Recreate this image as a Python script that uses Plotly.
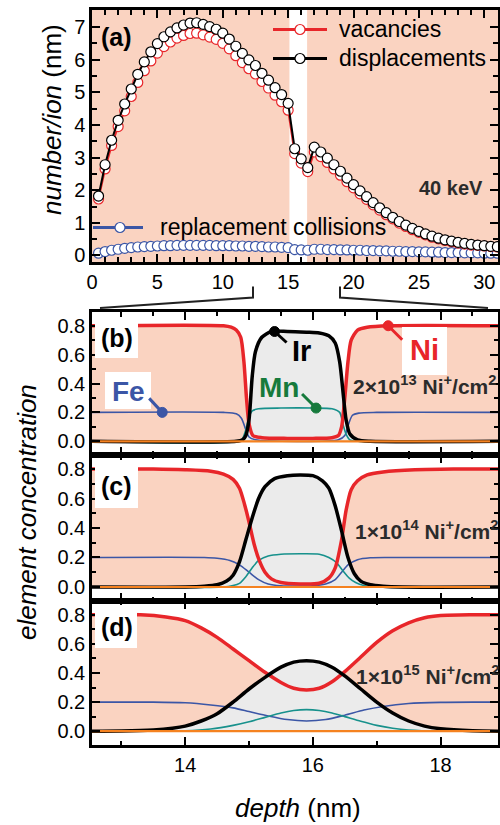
import plotly.graph_objects as go

W, H = 500, 825
FONT = "Liberation Sans, Arial, sans-serif"


def px(x):
    return x / W


def py(y):
    return 1 - y / H


# ---------------- panel (a): SRIM profiles ----------------
depth_a = [0.5, 1.0, 1.5, 2.0, 2.5, 3.0, 3.5, 4.0, 4.5, 5.0, 5.5, 6.0, 6.5, 7.0, 7.5, 8.0,
           8.5, 9.0, 9.5, 10.0, 10.5, 11.0, 11.5, 12.0, 12.5, 13.0, 13.5, 14.0, 14.5, 15.0,
           15.5, 16.0, 16.5, 17.0, 17.5, 18.0, 18.5, 19.0, 19.5, 20.0, 20.5, 21.0, 21.5, 22.0,
           22.5, 23.0, 23.5, 24.0, 24.5, 25.0, 25.5, 26.0, 26.5, 27.0, 27.5, 28.0, 28.5, 29.0,
           29.5, 30.0, 30.5, 31.0]
displacements = [1.82, 2.78, 3.53, 4.14, 4.64, 5.10, 5.55, 5.93, 6.24, 6.49, 6.70, 6.85, 6.97,
                 7.06, 7.12, 7.13, 7.08, 7.01, 6.93, 6.81, 6.63, 6.41, 6.19, 5.99, 5.82, 5.58,
                 5.37, 5.14, 4.93, 4.66, 3.27, 2.96, 2.69, 3.32, 3.17, 2.98, 2.78, 2.58, 2.37,
                 2.17, 1.98, 1.80, 1.62, 1.46, 1.31, 1.17, 1.04, 0.93, 0.83, 0.74, 0.66, 0.59,
                 0.53, 0.48, 0.44, 0.40, 0.37, 0.34, 0.32, 0.30, 0.28, 0.27]
vacancies = [1.73, 2.65, 3.37, 3.95, 4.43, 4.87, 5.30, 5.66, 5.96, 6.20, 6.40, 6.54, 6.66,
             6.74, 6.80, 6.81, 6.76, 6.69, 6.62, 6.50, 6.33, 6.12, 5.91, 5.72, 5.56, 5.33,
             5.13, 4.91, 4.71, 4.45, 3.12, 2.83, 2.57, 3.17, 3.03, 2.85, 2.65, 2.46, 2.26,
             2.07, 1.89, 1.72, 1.55, 1.39, 1.25, 1.12, 0.99, 0.89, 0.79, 0.71, 0.63, 0.56,
             0.51, 0.46, 0.42, 0.38, 0.35, 0.32, 0.31, 0.29, 0.27, 0.26]
replacements = [0.07, 0.12, 0.16, 0.19, 0.22, 0.24, 0.26, 0.27, 0.28, 0.29, 0.30, 0.30, 0.31,
                0.31, 0.31, 0.31, 0.31, 0.31, 0.30, 0.30, 0.30, 0.29, 0.29, 0.28, 0.28, 0.27,
                0.26, 0.26, 0.25, 0.24, 0.18, 0.17, 0.16, 0.19, 0.19, 0.18, 0.18, 0.17, 0.17,
                0.16, 0.16, 0.15, 0.15, 0.14, 0.14, 0.13, 0.13, 0.12, 0.12, 0.11, 0.11, 0.10,
                0.10, 0.09, 0.09, 0.09, 0.08, 0.08, 0.08, 0.07, 0.07, 0.07]
ir_layer_a = [15.1, 16.45]   # unshaded Ir layer in (a)

# ---------------- panel (b): 2e13 ----------------
ni_b_x = [12.5, 14.6, 14.72, 14.8, 14.87, 14.92, 14.96, 15.0, 15.06, 15.2, 15.6, 16.0, 16.3,
          16.4, 16.45, 16.5, 16.55, 16.6, 16.7, 16.85, 17.2, 19.0]
ni_b_y = [0.80, 0.80, 0.79, 0.77, 0.72, 0.55, 0.30, 0.12, 0.04, 0.025, 0.02, 0.02, 0.025,
          0.04, 0.10, 0.30, 0.55, 0.70, 0.77, 0.79, 0.80, 0.80]
ir_b_x = [12.5, 14.8, 14.9, 14.95, 15.0, 15.05, 15.1, 15.2, 15.35, 15.6, 15.9, 16.1, 16.25,
          16.35, 16.42, 16.47, 16.52, 16.58, 16.7, 16.9, 19.0]
ir_b_y = [0.0, 0.0, 0.01, 0.04, 0.15, 0.45, 0.62, 0.72, 0.76, 0.76, 0.755, 0.75, 0.73,
          0.68, 0.55, 0.35, 0.15, 0.05, 0.01, 0.0, 0.0]
fe_b_x = [12.5, 14.6, 14.8, 14.88, 14.95, 15.0, 15.1, 16.4, 16.5, 16.56, 16.62, 16.72, 17.0, 19.0]
fe_b_y = [0.20, 0.20, 0.19, 0.16, 0.08, 0.03, 0.01, 0.01, 0.04, 0.12, 0.18, 0.195, 0.20, 0.20]
mn_b_x = [12.5, 14.85, 14.9, 14.95, 15.0, 15.05, 15.15, 15.5, 16.0, 16.3, 16.42, 16.47, 16.52,
          16.58, 16.7, 19.0]
mn_b_y = [0.0, 0.0, 0.02, 0.08, 0.17, 0.21, 0.225, 0.23, 0.23, 0.225, 0.2, 0.12, 0.05,
          0.01, 0.0, 0.0]

# ---------------- panel (c): 1e14 ----------------
ni_c_x = [12.5, 13.5, 14.0, 14.4, 14.6, 14.75, 14.85, 14.93, 15.0, 15.08, 15.16, 15.25, 15.35,
          15.5, 15.8, 16.1, 16.25, 16.35, 16.45, 16.52, 16.6, 16.7, 16.85, 17.1, 17.6, 18.2, 19.0]
ni_c_y = [0.80, 0.80, 0.795, 0.785, 0.765, 0.73, 0.67, 0.56, 0.44, 0.29, 0.18, 0.10, 0.055,
          0.03, 0.02, 0.025, 0.06, 0.13, 0.32, 0.52, 0.66, 0.72, 0.76, 0.78, 0.795, 0.80, 0.80]
ir_c_x = [12.5, 14.0, 14.3, 14.5, 14.65, 14.75, 14.85, 14.95, 15.05, 15.15, 15.25, 15.4, 15.6,
          15.8, 16.0, 16.15, 16.25, 16.35, 16.45, 16.55, 16.65, 16.75, 16.9, 17.1, 17.4, 19.0]
ir_c_y = [0.0, 0.0, 0.005, 0.015, 0.04, 0.08, 0.17, 0.32, 0.47, 0.6, 0.68, 0.735, 0.755,
          0.76, 0.755, 0.72, 0.67, 0.55, 0.38, 0.2, 0.09, 0.04, 0.015, 0.005, 0.0, 0.0]
fe_c_x = [12.5, 14.3, 14.5, 14.7, 14.85, 15.0, 15.15, 15.3, 15.5, 16.0, 16.2, 16.35, 16.45,
          16.55, 16.7, 16.9, 17.2, 19.0]
fe_c_y = [0.2, 0.2, 0.195, 0.18, 0.15, 0.10, 0.05, 0.02, 0.008, 0.008, 0.02, 0.05, 0.10,
          0.15, 0.185, 0.198, 0.2, 0.2]
mn_c_x = [12.5, 14.6, 14.75, 14.85, 14.95, 15.05, 15.15, 15.3, 15.5, 15.8, 16.1, 16.25, 16.37,
          16.47, 16.57, 16.67, 16.8, 17.0, 19.0]
mn_c_y = [0.0, 0.0, 0.01, 0.025, 0.07, 0.13, 0.18, 0.21, 0.222, 0.225, 0.222, 0.2, 0.165,
          0.11, 0.06, 0.03, 0.01, 0.0, 0.0]

# ---------------- panel (d): 1e15 ----------------
ni_d_x = [12.5, 13.3, 13.7, 14.0, 14.25, 14.5, 14.75, 15.0, 15.25, 15.5, 15.7, 15.9, 16.1,
          16.3, 16.5, 16.75, 17.0, 17.25, 17.5, 17.75, 18.0, 18.5, 19.0]
ni_d_y = [0.80, 0.80, 0.785, 0.76, 0.71, 0.645, 0.565, 0.485, 0.405, 0.335, 0.295, 0.283,
          0.295, 0.34, 0.41, 0.51, 0.61, 0.69, 0.745, 0.78, 0.795, 0.80, 0.80]
ir_d_x = [12.5, 13.0, 13.5, 13.8, 14.0, 14.25, 14.5, 14.75, 15.0, 15.25, 15.5, 15.7, 15.9,
          16.1, 16.3, 16.5, 16.75, 17.0, 17.25, 17.5, 17.75, 18.0, 18.5, 19.0]
ir_d_y = [0.0, 0.001, 0.008, 0.02, 0.035, 0.07, 0.12, 0.2, 0.29, 0.37, 0.44, 0.475, 0.485,
          0.475, 0.44, 0.38, 0.29, 0.2, 0.125, 0.07, 0.035, 0.017, 0.003, 0.0]
fe_d_x = [12.5, 13.5, 14.0, 14.4, 14.75, 15.0, 15.3, 15.6, 15.9, 16.2, 16.5, 16.8, 17.1,
          17.5, 18.0, 18.5, 19.0]
fe_d_y = [0.2, 0.2, 0.195, 0.18, 0.16, 0.135, 0.105, 0.08, 0.07, 0.08, 0.11, 0.145, 0.17,
          0.19, 0.198, 0.2, 0.2]
mn_d_x = [12.5, 14.0, 14.4, 14.75, 15.0, 15.25, 15.5, 15.7, 15.9, 16.1, 16.3, 16.5, 16.75,
          17.0, 17.25, 17.5, 18.0, 19.0]
mn_d_y = [0.0, 0.003, 0.015, 0.04, 0.065, 0.095, 0.125, 0.142, 0.148, 0.142, 0.125, 0.1,
          0.068, 0.04, 0.02, 0.008, 0.0, 0.0]

zero_x = [12.5, 19.0]
zero_y = [0.0, 0.0]

fluences = ["2×10<sup>13</sup> Ni<sup>+</sup>/cm<sup>2</sup>",
            "1×10<sup>14</sup> Ni<sup>+</sup>/cm<sup>2</sup>",
            "1×10<sup>15</sup> Ni<sup>+</sup>/cm<sup>2</sup>"]
panel_labels = ["(a)", "(b)", "(c)", "(d)"]

# ---------------- colours ----------------
SALMON = "#fad3c1"
GREY = "#ebebeb"
RED = "#e8262a"
BLUE = "#3b56a6"
TEAL = "#17918c"
GREEN_TXT = "#167a3c"
ORANGE = "#f58220"
DARK = "#2b2b2b"

fig = go.Figure()

# ---- panel (a) traces
fig.add_trace(go.Scatter(x=depth_a, y=replacements, mode="lines+markers", xaxis="x", yaxis="y",
                         line=dict(color=BLUE, width=2),
                         marker=dict(symbol="circle", size=10, color="white",
                                     line=dict(color=BLUE, width=1.2))))
fig.add_trace(go.Scatter(x=depth_a, y=vacancies, mode="lines+markers", xaxis="x", yaxis="y",
                         line=dict(color=RED, width=2),
                         marker=dict(symbol="circle", size=10, color="white",
                                     line=dict(color=RED, width=1.2))))
fig.add_trace(go.Scatter(x=depth_a, y=displacements, mode="lines+markers", xaxis="x", yaxis="y",
                         line=dict(color="black", width=2),
                         marker=dict(symbol="circle", size=10, color="white",
                                     line=dict(color="black", width=1.2))))

# ---- panels (b)-(d)
panels = [
    (ni_b_x, ni_b_y, ir_b_x, ir_b_y, fe_b_x, fe_b_y, mn_b_x, mn_b_y),
    (ni_c_x, ni_c_y, ir_c_x, ir_c_y, fe_c_x, fe_c_y, mn_c_x, mn_c_y),
    (ni_d_x, ni_d_y, ir_d_x, ir_d_y, fe_d_x, fe_d_y, mn_d_x, mn_d_y),
]
SM = 0.7
for i, (nx, ny, ix, iy, fx, fy, mx, my) in enumerate(panels):
    xa, ya = f"x{i + 2}", f"y{i + 2}"
    fig.add_trace(go.Scatter(x=nx, y=ny, mode="lines", xaxis=xa, yaxis=ya, fill="tozeroy",
                             fillcolor=SALMON, line=dict(width=0, shape="spline", smoothing=SM)))
    fig.add_trace(go.Scatter(x=ix, y=iy, mode="lines", xaxis=xa, yaxis=ya, fill="tozeroy",
                             fillcolor=GREY, line=dict(width=0, shape="spline", smoothing=SM)))
    fig.add_trace(go.Scatter(x=fx, y=fy, mode="lines", xaxis=xa, yaxis=ya,
                             line=dict(color=BLUE, width=1.6, shape="spline", smoothing=SM)))
    fig.add_trace(go.Scatter(x=mx, y=my, mode="lines", xaxis=xa, yaxis=ya,
                             line=dict(color=TEAL, width=1.6, shape="spline", smoothing=SM)))
    fig.add_trace(go.Scatter(x=nx, y=ny, mode="lines", xaxis=xa, yaxis=ya,
                             line=dict(color=RED, width=3.5, shape="spline", smoothing=SM)))
    fig.add_trace(go.Scatter(x=ix, y=iy, mode="lines", xaxis=xa, yaxis=ya,
                             line=dict(color="black", width=3.5, shape="spline", smoothing=SM)))
    fig.add_trace(go.Scatter(x=zero_x, y=zero_y, mode="lines", xaxis=xa, yaxis=ya,
                             line=dict(color=ORANGE, width=2.2)))

# ---------------- axes ----------------
tickfont = dict(family=FONT, size=20, color="black")
common = dict(showline=True, linewidth=2.5, linecolor="black", mirror="allticks",
              ticks="inside", ticklen=8, tickwidth=2, tickcolor="black", automargin=False,
              showgrid=False, zeroline=False, tickfont=tickfont)


def minor(d, ln=4):
    return dict(dtick=d, ticks="inside", ticklen=ln, tickwidth=1.5, tickcolor="black",
                showgrid=False)


XD = [px(92), px(498)]
ydom = {"b": [py(455), py(312)], "c": [py(601), py(455)], "d": [py(745), py(601)]}
YR = [-0.095, 0.895]
XR = [12.54, 18.9]

fig.update_layout(
    xaxis=dict(domain=XD, range=[0, 31.05], anchor="y", dtick=5, minor=minor(1, 5), **common),
    yaxis=dict(domain=[py(262), py(10)], range=[-0.2, 7.52], anchor="x", dtick=1,
               minor=minor(0.5, 5), **common),
    xaxis2=dict(domain=XD, range=XR, anchor="y2", dtick=1, minor=minor(0.5),
                showticklabels=False, **common),
    yaxis2=dict(domain=ydom["b"], range=YR, anchor="x2", dtick=0.2, tickformat=".1f",
                minor=minor(0.1), **common),
    xaxis3=dict(domain=XD, range=XR, anchor="y3", dtick=1, minor=minor(0.5),
                showticklabels=False, **common),
    yaxis3=dict(domain=ydom["c"], range=YR, anchor="x3", dtick=0.2, tickformat=".1f",
                minor=minor(0.1), **common),
    xaxis4=dict(domain=XD, range=XR, anchor="y4", dtick=2, minor=minor(1),
                **common),
    yaxis4=dict(domain=ydom["d"], range=YR, anchor="x4", dtick=0.2, tickformat=".1f",
                minor=minor(0.1), **common),
)

# ---------------- shapes ----------------
shapes = []


def rect_px(x0, y0, x1, y1, color="white", layer="above"):
    return dict(type="rect", xref="paper", yref="paper", x0=px(x0), x1=px(x1),
                y0=py(y1), y1=py(y0), fillcolor=color, line=dict(width=0), layer=layer)


# salmon shading in (a)
shapes.append(dict(type="rect", xref="x", yref="y", x0=0, x1=ir_layer_a[0], y0=-0.2, y1=7.52,
                   fillcolor=SALMON, line=dict(width=0), layer="below"))
shapes.append(dict(type="rect", xref="x", yref="y", x0=ir_layer_a[1], x1=31.05, y0=-0.2,
                   y1=7.52, fillcolor=SALMON, line=dict(width=0), layer="below"))
# white boxes (a)
shapes.append(rect_px(265, 10, 498, 72, layer="below"))
shapes.append(rect_px(93, 217, 403, 239, layer="below"))
shapes.append(rect_px(95, 14, 138, 58, layer="below"))
# panel label boxes (b)-(d)
shapes.append(rect_px(95, 317, 138, 358))
shapes.append(rect_px(95, 460, 138, 508))
shapes.append(rect_px(95, 605, 137, 648))
# Fe and Ni label boxes
shapes.append(rect_px(105, 372, 151, 409))
shapes.append(rect_px(402, 327, 447, 375))


def line_px(x0, y0, x1, y1, color, width):
    return dict(type="line", xref="paper", yref="paper", x0=px(x0), x1=px(x1),
                y0=py(y0), y1=py(y1), line=dict(color=color, width=width))


def circle_px(cx, cy, r, fill, edge, lw=1.2):
    return dict(type="circle", xref="paper", yref="paper", x0=px(cx - r), x1=px(cx + r),
                y0=py(cy + r), y1=py(cy - r), fillcolor=fill, line=dict(color=edge, width=lw))


# legend samples (a)
shapes.append(line_px(273, 29.5, 327, 29.5, RED, 3))
shapes.append(circle_px(300, 29.5, 5, "white", RED))
shapes.append(line_px(273, 58.5, 327, 58.5, "black", 3))
shapes.append(circle_px(300, 58.5, 5, "white", "black"))
shapes.append(line_px(93, 227.5, 143, 227.5, BLUE, 3))
shapes.append(circle_px(120, 227.5, 5, "white", BLUE))


# pointer dots anchored on the curves of (b)
def dot(xa, ya, xv, yv, color, dx, dy):
    out = [dict(type="line", xref=xa, yref=ya, xsizemode="pixel", ysizemode="pixel",
                xanchor=xv, yanchor=yv, x0=0, x1=dx, y0=0, y1=dy,
                line=dict(color=color, width=3)),
           dict(type="circle", xref=xa, yref=ya, xsizemode="pixel", ysizemode="pixel",
                xanchor=xv, yanchor=yv, x0=-5, x1=5, y0=-5, y1=5, fillcolor=color,
                line=dict(color=color, width=1))]
    return out


shapes += dot("x2", "y2", 13.64, 0.2, BLUE, -13, 14)
shapes += dot("x2", "y2", 15.4, 0.76, "black", 12, -11)
shapes += dot("x2", "y2", 16.05, 0.23, GREEN_TXT, -14, 14)
shapes += dot("x2", "y2", 17.18, 0.8, RED, 14, -14)

# zoom indicator between (a) and (b)
shapes.append(dict(type="path", xref="paper", yref="paper",
                   path=f"M {px(100)},{py(308)} L {px(253)},{py(297.5)} L {px(253)},{py(286.5)}",
                   line=dict(color="#222222", width=2)))
shapes.append(dict(type="path", xref="paper", yref="paper",
                   path=f"M {px(340)},{py(286.5)} L {px(340)},{py(297.5)} L {px(488)},{py(308)}",
                   line=dict(color="#222222", width=2)))

# ---------------- annotations ----------------
ann = []


def text(t, x, y, size, color="black", xanchor="center", angle=0):
    ann.append(dict(text=t, x=px(x), y=py(y), xref="paper", yref="paper", showarrow=False,
                    font=dict(family=FONT, size=size, color=color), xanchor=xanchor,
                    yanchor="middle", textangle=angle))


text(f"<b>{panel_labels[0]}</b>", 116.5, 37, 25)
text(f"<b>{panel_labels[1]}</b>", 116.5, 338, 25)
text(f"<b>{panel_labels[2]}</b>", 116.5, 486, 25)
text(f"<b>{panel_labels[3]}</b>", 116.5, 627, 25)
text("vacancies", 337, 29, 23, xanchor="left")
text("displacements", 337, 58, 23, xanchor="left")
text("replacement collisions", 158, 227, 23, xanchor="left")
text("<b>40 keV</b>", 451, 188, 20, color=DARK)
text(f"<b>{fluences[0]}</b>", 351, 385, 21, color=DARK, xanchor="left")
text(f"<b>{fluences[1]}</b>", 353, 530, 21, color=DARK, xanchor="left")
text(f"<b>{fluences[2]}</b>", 354, 675, 21, color=DARK, xanchor="left")
text("<b>Fe</b>", 128, 392, 28, color=BLUE)
text("<b>Ir</b>", 301, 351, 29, color="black")
text("<b>Mn</b>", 279, 388, 28, color=GREEN_TXT)
text("<b>Ni</b>", 424, 350, 29, color=RED)
text("<i>number/ion</i> (nm)", 52, 120, 26, angle=-90)
text("<i>element concentration</i>", 27, 512, 26, angle=-90)
text("<i>depth</i> (nm)", 298, 808, 26)

fig.update_layout(width=W, height=H, margin=dict(l=0, r=0, t=0, b=0),
                  paper_bgcolor="white", plot_bgcolor="white", showlegend=False,
                  shapes=shapes, annotations=ann, font=dict(family=FONT))

fig.write_html("out.html", config={"displayModeBar": False},
               post_script="document.body.style.margin='0';document.body.style.overflow='hidden';")
